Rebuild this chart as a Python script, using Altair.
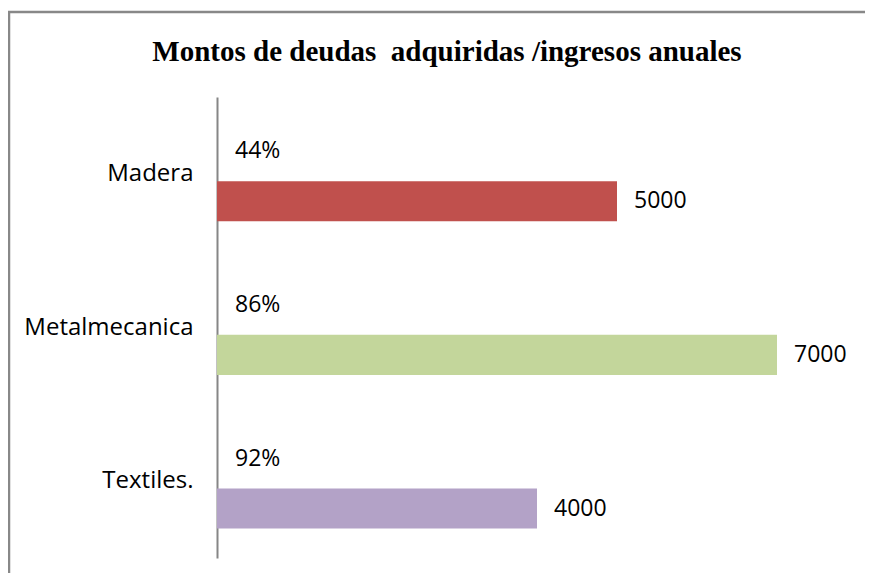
import altair as alt
import pandas as pd

title_text = "Montos de deudas \u00a0adquiridas /ingresos anuales"
categories = ["Madera", "Metalmecanica", "Textiles."]
amounts = [5000, 7000, 4000]
shares = [0.44, 0.86, 0.92]
colors = ["#C0504D", "#C3D69B", "#B3A2C7"]

amount_df = pd.DataFrame({"cat": categories, "value": amounts, "series": "val",
                          "label": [str(v) for v in amounts]})
share_df = pd.DataFrame({"cat": categories, "value": [0] * 3, "series": "pct",
                         "label": [f"{round(s * 100)}%" for s in shares]})

FONT = "Open Sans"

y_enc = alt.Y("cat:N", sort=categories, title=None,
              scale=alt.Scale(paddingInner=0, paddingOuter=0),
              axis=alt.Axis(domainColor="#868686", domainWidth=2, ticks=False,
                            labelPadding=24, labelFontSize=24, labelFont=FONT,
                            labelColor="#000000", grid=False))
off_enc = alt.YOffset("series:N", sort=["pct", "val"],
                      scale=alt.Scale(domain=["pct", "val"], paddingInner=0,
                                      paddingOuter=0.92, align=0.6))
x_scale = alt.Scale(domain=[0, 8000], nice=False)

bars = alt.Chart(amount_df).mark_bar().encode(
    y=y_enc,
    yOffset=off_enc,
    x=alt.X("value:Q", scale=x_scale, axis=None),
    color=alt.Color("cat:N", scale=alt.Scale(domain=categories, range=colors), legend=None),
)

val_text = alt.Chart(amount_df).mark_text(
    align="left", baseline="middle", dx=17, fontSize=23, font=FONT, color="#000000"
).encode(
    y=alt.Y("cat:N", sort=categories), yOffset=off_enc,
    x=alt.X("value:Q", scale=x_scale), text="label:N",
)

pct_text = alt.Chart(share_df).mark_text(
    align="left", baseline="middle", dx=18, dy=-10, fontSize=23, font=FONT, color="#000000"
).encode(
    y=alt.Y("cat:N", sort=categories), yOffset=off_enc,
    x=alt.X("value:Q", scale=x_scale), text="label:N",
)

one = pd.DataFrame({"t": [title_text]})
top_rule = alt.Chart(one).mark_rule(stroke="#888888", strokeWidth=2.5).encode(
    x=alt.value(-209), x2=alt.value(660), y=alt.value(-85)
)
left_rule = alt.Chart(one).mark_rule(stroke="#888888", strokeWidth=2.5).encode(
    x=alt.value(-208), y=alt.value(-86), y2=alt.value(480)
)
title_mark = alt.Chart(one).mark_text(
    align="center", baseline="alphabetic", font="Liberation Serif", fontSize=29,
    fontWeight="bold", color="#000000"
).encode(x=alt.value(230), y=alt.value(-36), text="t:N")

chart = alt.layer(top_rule, left_rule, title_mark, bars, val_text, pct_text).properties(
    width=640, height=461,
    autosize=alt.AutoSizeParams(type="none"),
    padding={"left": 209, "top": 89, "right": 8, "bottom": 15},
).configure_view(stroke=None)

chart.save("out.html", embed_options={"renderer": "svg", "actions": False})
